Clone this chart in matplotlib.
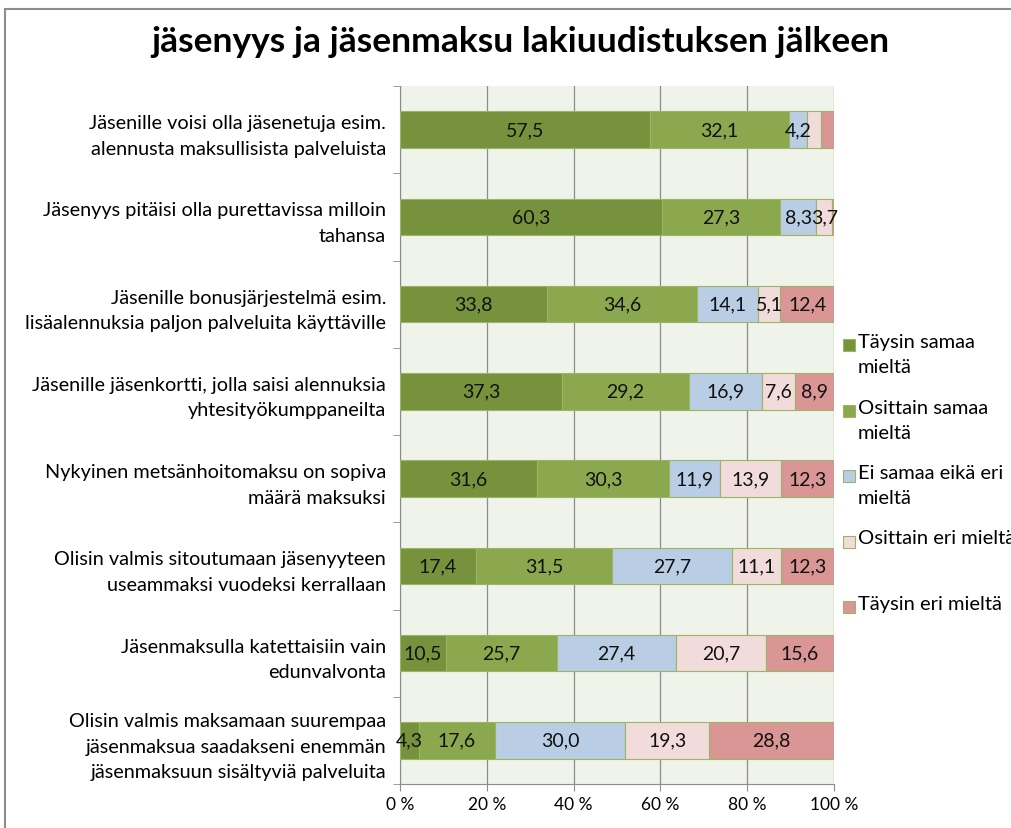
import numpy as np
import matplotlib.pyplot as plt
from matplotlib.patches import Rectangle

plt.rcParams['font.family'] = ['Lato', 'DejaVu Sans']

categories = [
    "Jäsenille voisi olla jäsenetuja esim.\nalennusta maksullisista palveluista",
    "Jäsenyys pitäisi olla purettavissa milloin\ntahansa",
    "Jäsenille bonusjärjestelmä esim.\nlisäalennuksia paljon palveluita käyttäville",
    "Jäsenille jäsenkortti, jolla saisi alennuksia\nyhtesityökumppaneilta",
    "Nykyinen metsänhoitomaksu on sopiva\nmäärä maksuksi",
    "Olisin valmis sitoutumaan jäsenyyteen\nuseammaksi vuodeksi kerrallaan",
    "Jäsenmaksulla katettaisiin vain\nedunvalvonta",
    "Olisin valmis maksamaan suurempaa\njäsenmaksua saadakseni enemmän\njäsenmaksuun sisältyviä palveluita",
]
series = ["Täysin samaa\nmieltä", "Osittain samaa\nmieltä", "Ei samaa eikä eri\nmieltä",
          "Osittain eri mieltä", "Täysin eri mieltä"]
taysin_samaa = [57.5, 60.3, 33.8, 37.3, 31.6, 17.4, 10.5, 4.3]
osittain_samaa = [32.1, 27.3, 34.6, 29.2, 30.3, 31.5, 25.7, 17.6]
ei_samaa_eika_eri = [4.2, 8.3, 14.1, 16.9, 11.9, 27.7, 27.4, 30.0]
osittain_eri = [3.2, 3.7, 5.1, 7.6, 13.9, 11.1, 20.7, 19.3]
taysin_eri = [3.0, 0.4, 12.4, 8.9, 12.3, 12.3, 15.6, 28.8]
# labels that are not shown in the original (row, series)
hidden = [(0, 3), (0, 4), (1, 4)]

colors = ['#76923C', '#8CA84E', '#B9CDE5', '#F2DCDB', '#D99694']

values = np.array([taysin_samaa, osittain_samaa, ei_samaa_eika_eri, osittain_eri, taysin_eri])

fig = plt.figure(figsize=(10.11, 8.29), dpi=100)
ax = fig.add_axes([400/1011, 1-785/829, 434/1011, 698/829])
ax.set_facecolor('#EFF3EA')

y = np.arange(len(categories))
left = np.zeros(len(categories))
for j in range(len(series)):
    ax.barh(y, values[j], left=left, height=0.42, color=colors[j],
            edgecolor='#9AB563', linewidth=0.8, zorder=3)
    for i in range(len(categories)):
        if (i, j) in hidden:
            continue
        ax.text(left[i] + values[j][i]/2, y[i], f"{values[j][i]:.1f}".replace('.', ','),
                ha='center', va='center', fontsize=14, color='#111111', zorder=4)
    left += values[j]

ax.set_xlim(0, 100)
ax.set_ylim(len(categories)-0.5, -0.5)
ax.set_xticks([0, 20, 40, 60, 80, 100])
ax.set_xticklabels([f"{t} %" for t in [0, 20, 40, 60, 80, 100]], fontsize=12.5)
ax.xaxis.grid(True, color='#8C8C8C', linewidth=0.9, zorder=0)
ax.set_axisbelow(True)

ax.set_yticks(y)
ax.set_yticklabels(categories, fontsize=14.3, linespacing=1.6)
ax.set_yticks(np.arange(-0.5, len(categories), 1), minor=True)
ax.tick_params(axis='y', which='major', length=0, pad=10)
ax.tick_params(axis='y', which='minor', length=5, color='#8C8C8C')
ax.tick_params(axis='x', length=5, color='#8C8C8C', pad=4)
for lab in ax.get_yticklabels():
    lab.set_horizontalalignment('right')

for s in ['top', 'right']:
    ax.spines[s].set_visible(False)
for s in ['left', 'bottom']:
    ax.spines[s].set_color('#8C8C8C')

# legend drawn by hand so the swatch sits on the first line
for j, name in enumerate(series):
    ycen = 1 - (346 + j*65.5)/829
    fig.patches.append(Rectangle((843/1011, ycen - 6/829), 12/1011, 12/829,
                                 transform=fig.transFigure, facecolor=colors[j],
                                 edgecolor='#9AB563', linewidth=0.8))
    fig.text(858/1011, ycen + 12/829, name, fontsize=14.5, va='top', ha='left', linespacing=1.6)

fig.suptitle("jäsenyys ja jäsenmaksu lakiuudistuksen jälkeen", x=520/1011, y=1-26/829,
             va='top', fontsize=25.5, fontweight='bold')

fig.patches.append(Rectangle((5/1011, -0.05), 1.1, 1-10/829+0.05, transform=fig.transFigure,
                             fill=False, edgecolor='#8C8C8C', linewidth=1.5))

fig.savefig('out.png', dpi=100)
